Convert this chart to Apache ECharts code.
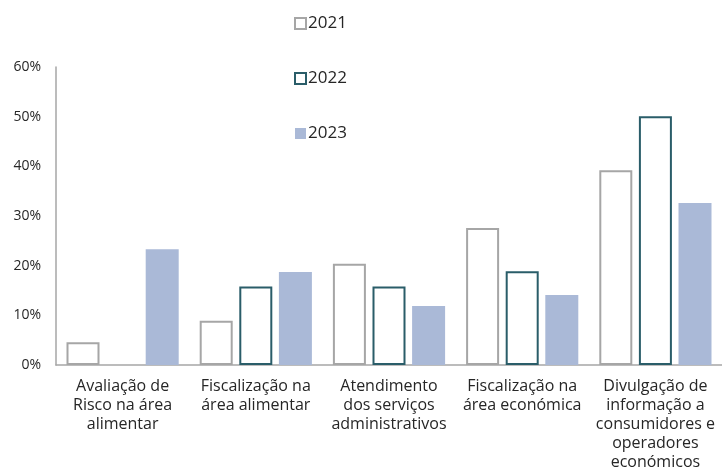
<!DOCTYPE html>
<html>
<head>
<meta charset="utf-8">
<script src="https://cdn.jsdelivr.net/npm/echarts@6/dist/echarts.min.js"></script>
<style>
  html, body { margin: 0; padding: 0; background: #fff; }
  #chart { width: 722px; height: 473px; }
</style>
</head>
<body>
<div id="chart"></div>
<script>
// categorias (quebras de linha como no original)
const categories = [
  'Avaliação de\nRisco na área\nalimentar',
  'Fiscalização na\nárea alimentar',
  'Atendimento\ndos serviços\nadministrativos',
  'Fiscalização na\nárea económica',
  'Divulgação de\ninformação a\nconsumidores e\noperadores\neconómicos'
];
const years = ['2021', '2022', '2023'];
const values2021 = [4.6, 8.9, 20.4, 27.6, 39.2];
const values2022 = [null, 15.8, 15.8, 18.9, 50.1];
const values2023 = [23.3, 18.7, 11.9, 14.1, 32.6];

const fontFamily = '"Open Sans", sans-serif';
const textColor = '#262626';

const chart = echarts.init(document.getElementById('chart'));

const option = {
  animation: false,
  backgroundColor: '#fff',
  textStyle: { fontFamily: fontFamily },
  legend: {
    orient: 'vertical',
    left: 289,
    top: 10,
    itemGap: 38,
    itemWidth: 11,
    itemHeight: 11,
    icon: 'rect',
    textStyle: { fontSize: 17, color: textColor, fontFamily: fontFamily, padding: [0, 0, 0, -3] },
    data: years
  },
  grid: {
    left: 56,
    right: 0,
    top: 67,
    bottom: 108,
    containLabel: false
  },
  xAxis: {
    type: 'category',
    data: categories,
    axisLine: { lineStyle: { color: '#a6a6a6', width: 1.5 } },
    axisTick: { show: false },
    axisLabel: {
      interval: 0,
      color: textColor,
      fontSize: 16,
      lineHeight: 19,
      margin: 12,
      fontFamily: fontFamily
    }
  },
  yAxis: {
    type: 'value',
    min: 0,
    max: 60,
    interval: 10,
    axisLine: { show: true, lineStyle: { color: '#a6a6a6', width: 1.5 } },
    axisTick: { show: false },
    splitLine: { show: false },
    axisLabel: {
      formatter: '{value}%',
      color: textColor,
      fontSize: 14,
      margin: 15,
      fontFamily: fontFamily
    }
  },
  series: [
    {
      name: '2021',
      type: 'bar',
      data: values2021,
      barWidth: 33,
      barGap: '20%',
      itemStyle: { color: '#ffffff', borderColor: '#a6a6a6', borderWidth: 2 }
    },
    {
      name: '2022',
      type: 'bar',
      data: values2022,
      barWidth: 33,
      barGap: '20%',
      itemStyle: { color: '#ffffff', borderColor: '#2a5d69', borderWidth: 2 }
    },
    {
      name: '2023',
      type: 'bar',
      data: values2023,
      barWidth: 33,
      barGap: '20%',
      itemStyle: { color: '#aab9d7' }
    }
  ]
};

chart.setOption(option);
</script>
</body>
</html>
